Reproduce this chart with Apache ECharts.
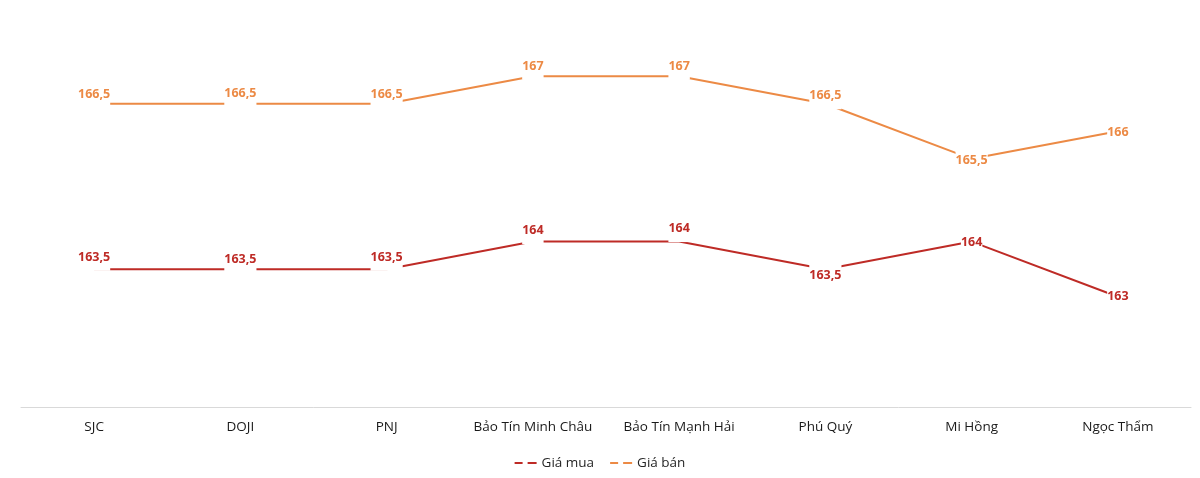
<!DOCTYPE html>
<html>
<head>
<meta charset="utf-8">
<script src="https://cdn.jsdelivr.net/npm/echarts@6/dist/echarts.min.js"></script>
<style>
  html, body { margin: 0; padding: 0; background: #fff; }
  #main { width: 1200px; height: 478px; }
</style>
</head>
<body>
<div id="main"></div>
<script>
// tên các đơn vị và giá (triệu đồng/lượng)
var categories = ['SJC', 'DOJI', 'PNJ', 'Bảo Tín Minh Châu', 'Bảo Tín Mạnh Hải', 'Phú Quý', 'Mi Hồng', 'Ngọc Thẩm'];
var giaMua = [163.5, 163.5, 163.5, 164, 164, 163.5, 164, 163];
var giaBan = [166.5, 166.5, 166.5, 167, 167, 166.5, 165.5, 166];

// độ lệch dọc của nhãn so với điểm (px), giống vị trí nhãn trong bản gốc
var dyMua = [-12, -10, -12, -11, -13, 6, 1, 0];
var dyBan = [-9, -10, -9, -10, -10, -8, 2, 1];

var chart = echarts.init(document.getElementById('main'));

function fmt(p) {
  return String(p.value).replace('.', ',');
}

function lineSeries(name, values, dy, color) {
  var data = values.map(function (v, i) {
    return { value: v, label: { offset: [0, dy[i]] } };
  });
  return {
    name: name,
    type: 'line',
    data: data,
    symbol: 'circle',
    symbolSize: 0,
    showSymbol: true,
    lineStyle: { color: color, width: 2 },
    itemStyle: { color: color },
    label: {
      show: true,
      position: 'inside',
      formatter: fmt,
      color: color,
      fontFamily: 'Open Sans',
      fontWeight: 'bold',
      fontSize: 12.5,
      backgroundColor: '#fff',
      padding: [7, 0, 7, 0]
    },
    emphasis: { disabled: true }
  };
}

var option = {
  animation: false,
  backgroundColor: '#fff',
  grid: { left: 21, right: 9, top: 21, bottom: 71 },
  legend: {
    bottom: 3,
    left: 'center',
    itemWidth: 22,
    itemHeight: 2,
    itemGap: 16,
    icon: 'path://M0,0h8v2h-8z M13,0h9v2h-9z',
    textStyle: { fontFamily: 'Open Sans', fontSize: 13.5, color: '#262626' },
    data: ['Giá mua', 'Giá bán']
  },
  xAxis: {
    type: 'category',
    data: categories,
    boundaryGap: true,
    axisLine: { lineStyle: { color: '#d9d9d9', width: 1 } },
    axisTick: { show: false },
    axisLabel: { interval: 0, hideOverlap: false, margin: 13, fontFamily: 'Open Sans', fontSize: 13.5, color: '#1a1a1a' }
  },
  yAxis: {
    type: 'value',
    min: 161,
    max: 168,
    interval: 1,
    show: false,
    splitLine: { show: false }
  },
  series: [
    lineSeries('Giá mua', giaMua, dyMua, '#BE2B26'),
    lineSeries('Giá bán', giaBan, dyBan, '#EC8A45')
  ]
};

chart.setOption(option);
</script>
</body>
</html>
